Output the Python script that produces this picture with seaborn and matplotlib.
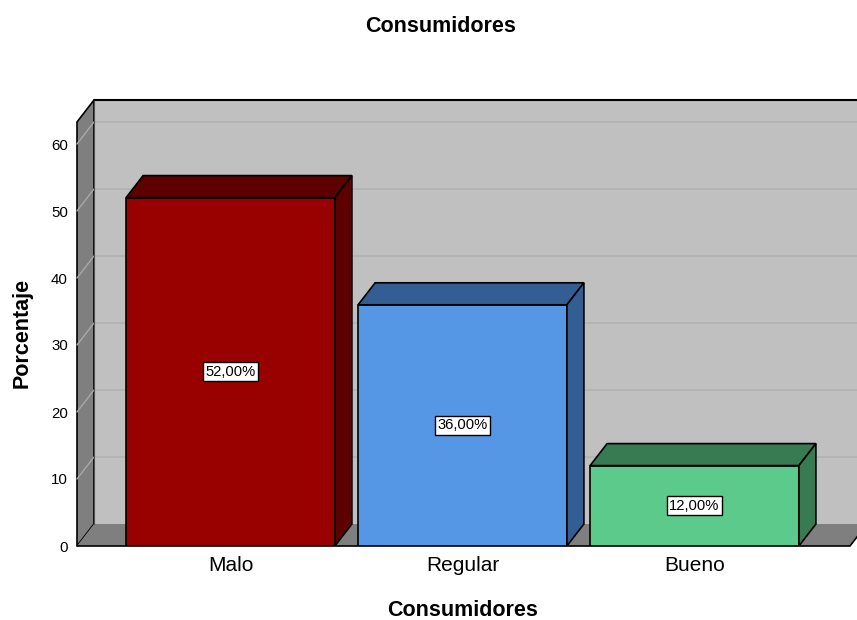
import matplotlib
matplotlib.use("Agg")
import matplotlib.pyplot as plt
import seaborn as sns
import pandas as pd
from matplotlib.patches import Polygon, Rectangle

# ---- data ----
categories = ["Malo", "Regular", "Bueno"]
percentages = [52.0, 36.0, 12.0]
bar_labels = ["52,00%", "36,00%", "12,00%"]
y_ticks = [0, 10, 20, 30, 40, 50, 60]

front_colors = ["#990000", "#5596e5", "#5bca8a"]
top_colors = ["#5c0000", "#335e93", "#387a52"]

sns.set_theme(style="white")
plt.rcParams['font.family'] = ['Liberation Sans', 'DejaVu Sans']

W, H = 857, 620
fig = plt.figure(figsize=(W / 100, H / 100), dpi=100)
ax = fig.add_axes([77 / W, 1 - 546 / H, 780 / W, 446 / H])
ax.set_facecolor("white")

df = pd.DataFrame({"Consumidores": categories, "Porcentaje": percentages})
sns.barplot(data=df, x="Consumidores", y="Porcentaje", hue="Consumidores",
            palette=dict(zip(categories, front_colors)), width=0.9,
            edgecolor="black", linewidth=1.2, legend=False, ax=ax,
            saturation=1, zorder=3)
bars = sorted([p for p in ax.patches if isinstance(p, Rectangle) and p.get_height() > 0],
              key=lambda p: p.get_x())

# geometry (pixel-based layout -> data units)
px_x, px_y = 232.0, 6.7
x_left = -(230.5 - 77) / px_x
x_right = (850 - 230.5) / px_x
top = (546 - 122) / px_y
dx, dy = 17 / px_x, 22 / px_y
ax.set_xlim(x_left, (857 - 230.5) / px_x)
ax.set_ylim(0, 446 / px_y)

# back wall
ax.add_patch(Polygon([(x_left + dx, dy), (x_right + dx, dy), (x_right + dx, top + dy),
                      (x_left + dx, top + dy)], closed=True, fc="#c0c0c0", ec="none", zorder=0))
# gridlines on back wall and left wall
for v in y_ticks[1:]:
    ax.plot([x_left + dx, x_right + dx], [v + dy, v + dy], color="#b2b2b2", lw=1.2, zorder=0.5)
# left wall
ax.add_patch(Polygon([(x_left, 0), (x_left, top), (x_left + dx, top + dy), (x_left + dx, dy)],
                     closed=True, fc="#7f7f7f", ec="black", lw=1.2, zorder=0.6, clip_on=False))
for v in y_ticks[1:]:
    ax.plot([x_left, x_left + dx], [v, v + dy], color="#a8a8a8", lw=1, zorder=0.7, clip_on=False)
# floor
ax.add_patch(Polygon([(x_left, 0), (x_right, 0), (x_right + dx, dy), (x_left + dx, dy)],
                     closed=True, fc="#7f7f7f", ec="none", zorder=0.8, clip_on=False))
ax.plot([x_left, x_right, x_right + dx], [0, 0, dy], color="black", lw=1.2, zorder=0.9, clip_on=False)
ax.plot([x_left + dx, x_left + dx], [dy, top + dy], color="#505050", lw=0.8, zorder=0.9)
ax.plot([x_left + dx, x_right + dx + 0.2], [top + dy, top + dy], color="black", lw=1.5, zorder=0.9, clip_on=False)

# 3D faces of bars
for i, p in enumerate(bars):
    x0 = p.get_x()
    x1 = x0 + p.get_width()
    h = p.get_height()
    ax.add_patch(Polygon([(x0, h), (x1, h), (x1 + dx, h + dy), (x0 + dx, h + dy)], closed=True,
                         fc=top_colors[i], ec="black", lw=1.2, zorder=3))
    ax.add_patch(Polygon([(x1, 0), (x1, h), (x1 + dx, h + dy), (x1 + dx, dy)], closed=True,
                         fc=top_colors[i], ec="black", lw=1.2, zorder=3))
    ax.text((x0 + x1) / 2, h / 2, bar_labels[i], ha="center", va="center", fontsize=10.6,
            color="black", zorder=5,
            bbox=dict(boxstyle="square,pad=0.18", fc="white", ec="black", lw=1))

ax.set_yticks(y_ticks)
ax.set_yticklabels([str(t) for t in y_ticks])
ax.tick_params(axis="y", length=0, pad=6.5, labelsize=10.8, colors="black")
ax.tick_params(axis="x", length=0, pad=7, labelsize=15, colors="black")
for s in ax.spines.values():
    s.set_visible(False)
ax.set_xlabel("")
ax.set_ylabel("")

fig.text(441 / W, 1 - 27 / H, "Consumidores", ha="center", va="center", fontsize=15.5,
         fontweight="bold", color="black")
fig.text(463 / W, 1 - 611 / H, "Consumidores", ha="center", va="center", fontsize=15.5,
         fontweight="bold", color="black")
fig.text(22 / W, 1 - 333 / H, "Porcentaje", ha="center", va="center", fontsize=15.5,
         fontweight="bold", rotation=90, color="black")

fig.savefig("out.png", dpi=100)
